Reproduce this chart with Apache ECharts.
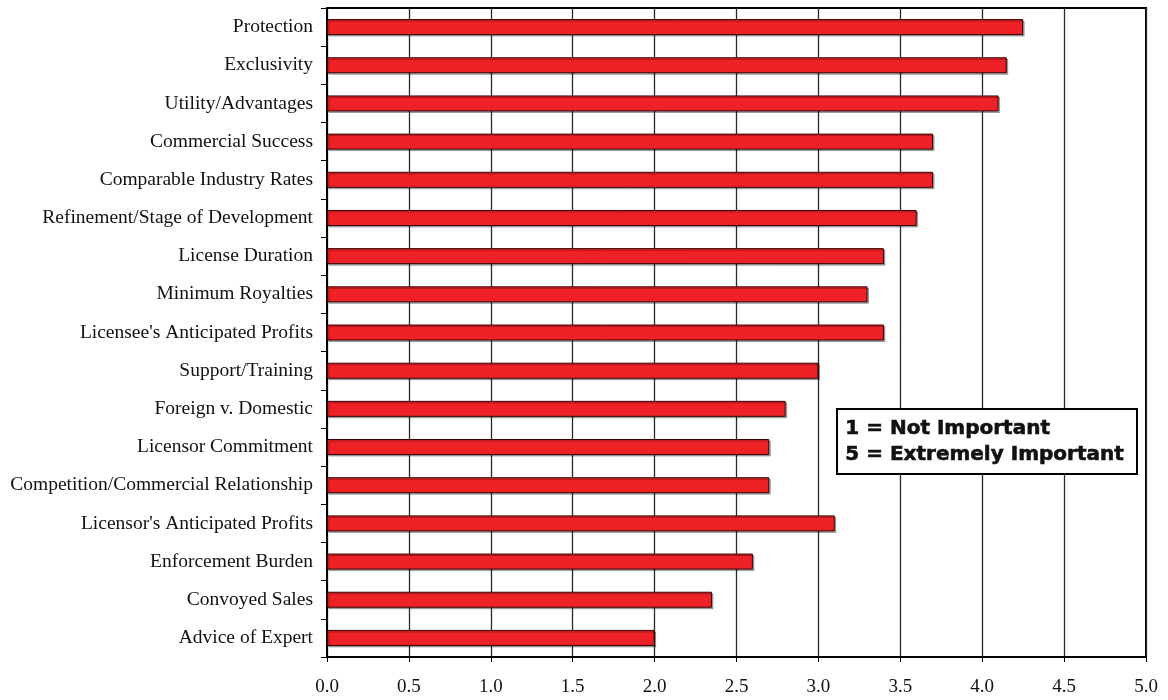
<!DOCTYPE html>
<html>
<head>
<meta charset="utf-8">
<script src="https://cdn.jsdelivr.net/npm/echarts@6/dist/echarts.min.js"></script>
<style>html,body{margin:0;padding:0;background:#fff;}#c{width:1168px;height:700px;}</style>
</head>
<body>
<div id="c"></div>
<script>
var categories = ["Protection","Exclusivity","Utility/Advantages","Commercial Success","Comparable Industry Rates","Refinement/Stage of Development","License Duration","Minimum Royalties","Licensee's Anticipated Profits","Support/Training","Foreign v. Domestic","Licensor Commitment","Competition/Commercial Relationship","Licensor's Anticipated Profits","Enforcement Burden","Convoyed Sales","Advice of Expert"];
var values = [4.25,4.15,4.1,3.7,3.7,3.6,3.4,3.3,3.4,3.0,2.8,2.7,2.7,3.1,2.6,2.35,2.0];
var noteLines = ["1 = Not Important","5 = Extremely Important"];

var chart = echarts.init(document.getElementById('c'));
chart.setOption({
  animation:false,
  backgroundColor:'#fff',
  grid:{left:327,right:22,top:8,bottom:43,containLabel:false,show:true,borderColor:'#000',borderWidth:2,backgroundColor:'transparent'},
  xAxis:{type:'value',min:0,max:5,interval:0.5,
    axisLine:{show:true,lineStyle:{color:'#000',width:2}},
    axisTick:{show:true,length:5,lineStyle:{color:'#000'}},
    axisLabel:{formatter:function(v){return v.toFixed(1);},color:'#111',fontFamily:'Liberation Serif',fontSize:19,margin:21},
    splitLine:{show:true,lineStyle:{color:'#2a2a2a',width:1.3}}
  },
  yAxis:{type:'category',data:categories,inverse:true,
    axisLine:{show:true,lineStyle:{color:'#000',width:2}},
    axisTick:{show:true,length:6,inside:false,lineStyle:{color:'#000'}},
    axisLabel:{color:'#111',fontFamily:'Liberation Serif',fontSize:19.5,margin:14},
    splitLine:{show:false}
  },
  series:[{type:'bar',data:values,barWidth:16,
    itemStyle:{color:'#ee2226',borderColor:'#3a0000',borderWidth:1,shadowColor:'rgba(0,0,0,0.3)',shadowOffsetX:1.5,shadowOffsetY:1.5,shadowBlur:0},
    silent:true}],
  graphic:[
    {type:'rect',left:836,top:408,shape:{width:300,height:65},style:{fill:'#fff',stroke:'#000',lineWidth:2},z:100},
    {type:'text',left:845,top:416,style:{text:noteLines.join('\n'),font:'bold 20px "DejaVu Sans", sans-serif',fill:'#111',stroke:'#111',lineWidth:0.6,lineHeight:26},z:101}
  ]
});
</script>
</body>
</html>
